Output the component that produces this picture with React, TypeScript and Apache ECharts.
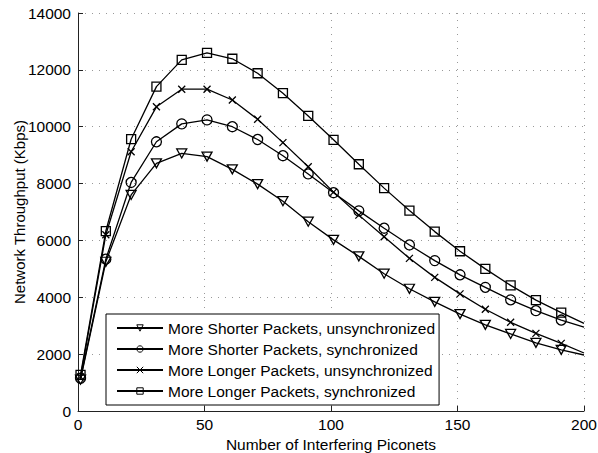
import React, { useEffect, useRef } from "react";
import * as echarts from "echarts";

const xMarks = [1, 11, 21, 31, 41, 51, 61, 71, 81, 91, 101, 111, 121, 131, 141, 151, 161, 171, 181, 191, 200];

const shorterUnsync = [1100, 5250, 7600, 8710, 9060, 8950, 8500, 7980, 7380, 6660, 6020, 5440, 4830, 4300, 3840, 3410, 3030, 2710, 2400, 2150, 1970];
const shorterSync = [1150, 5340, 8040, 9470, 10100, 10240, 10000, 9550, 8980, 8340, 7680, 7040, 6430, 5840, 5290, 4790, 4350, 3910, 3530, 3200, 2950];
const longerUnsync = [1200, 6200, 9120, 10700, 11320, 11320, 10940, 10260, 9440, 8590, 7700, 6890, 6130, 5370, 4700, 4120, 3580, 3120, 2730, 2380, 2040];
const longerSync = [1270, 6330, 9560, 11410, 12350, 12600, 12390, 11880, 11180, 10380, 9540, 8680, 7840, 7050, 6310, 5620, 5000, 4420, 3900, 3460, 3080];

const seriesNames = [
  "More Shorter Packets, unsynchronized",
  "More Shorter Packets, synchronized",
  "More Longer Packets, unsynchronized",
  "More Longer Packets, synchronized",
];

const xTicks = [0, 50, 100, 150, 200];
const yTicks = [0, 2000, 4000, 6000, 8000, 10000, 12000, 14000];

const FONT = "'Liberation Sans', Arial, Helvetica, sans-serif";

const symbols = [
  { symbol: "path://M0,0 L10,0 L5,9 Z", size: [10, 9] },
  { symbol: "circle", size: 10 },
  { symbol: "path://M0,0 L10,10 M10,0 L0,10", size: 7 },
  { symbol: "rect", size: 9 },
];

export default function App() {
  const ref = useRef<HTMLDivElement>(null);
  useEffect(() => {
    if (!ref.current) return;
    const chart = echarts.init(ref.current, undefined, { renderer: "svg" });
    const all = [shorterUnsync, shorterSync, longerUnsync, longerSync];
    const series = all.map((vals, i) => ({
      name: seriesNames[i],
      type: "line",
      symbol: symbols[i].symbol,
      symbolSize: symbols[i].size,
      showAllSymbol: true,
      lineStyle: { color: "#000", width: 1.3 },
      itemStyle: { color: "rgba(0,0,0,0)", borderColor: "#000", borderWidth: 1.3 },
      emphasis: { disabled: true },
      data: vals.map((v, j) =>
        j === vals.length - 1
          ? { value: [xMarks[j], v], symbol: "none" }
          : { value: [xMarks[j], v] }
      ),
    }));
    chart.setOption({
      animation: false,
      backgroundColor: "#fff",
      textStyle: { fontFamily: FONT },
      grid: { left: 78, top: 13, right: 14, bottom: 42, containLabel: false, outerBoundsMode: "none" },
      xAxis: {
        type: "value",
        min: xTicks[0],
        max: xTicks[xTicks.length - 1],
        interval: 50,
        name: "Number of Interfering Piconets",
        nameLocation: "middle",
        nameGap: 26,
        nameMoveOverlap: false,
        nameTextStyle: { color: "#000", fontSize: 15.5, fontFamily: FONT, verticalAlign: "top", lineHeight: 14 },
        axisLine: { lineStyle: { color: "#222", width: 1 } },
        axisTick: { inside: true, length: 5, lineStyle: { color: "#222" } },
        axisLabel: { color: "#000", fontSize: 15.5, fontFamily: FONT, margin: 6, lineHeight: 14, formatter: (v: number) => String(v) },
        splitLine: { show: true, lineStyle: { color: "#999", type: [1, 6], width: 1 } },
      },
      yAxis: {
        type: "value",
        min: yTicks[0],
        max: yTicks[yTicks.length - 1],
        interval: 2000,
        name: "Network Throughput (Kbps)",
        nameLocation: "middle",
        nameGap: 51,
        nameMoveOverlap: false,
        nameTextStyle: { color: "#000", fontSize: 15, fontFamily: FONT },
        axisLine: { show: true, lineStyle: { color: "#222", width: 1 } },
        axisTick: { show: true, inside: true, length: 5, lineStyle: { color: "#222" } },
        axisLabel: { color: "#000", fontSize: 15.5, fontFamily: FONT, margin: 7, formatter: (v: number) => String(v) },
        splitLine: { show: true, lineStyle: { color: "#999", type: [1, 6], width: 1 } },
      },
      legend: {
        orient: "vertical",
        left: 106,
        top: 314,
        backgroundColor: "#fff",
        borderColor: "#000",
        borderWidth: 1,
        borderRadius: 0,
        padding: [6, 4, 6, 10],
        itemGap: 5,
        itemWidth: 46,
        itemHeight: 8,
        selectedMode: false,
        itemStyle: { color: "rgba(0,0,0,0)", borderColor: "#000", borderWidth: 1 },
        textStyle: { color: "#000", fontSize: 15.5, fontFamily: FONT, lineHeight: 15 },
        data: seriesNames,
      },
      series,
    });
    return () => chart.dispose();
  }, []);
  return (
    <div
      ref={ref}
      style={{ width: 598, height: 453, position: "fixed", left: 0, top: 0 }}
    />
  );
}
